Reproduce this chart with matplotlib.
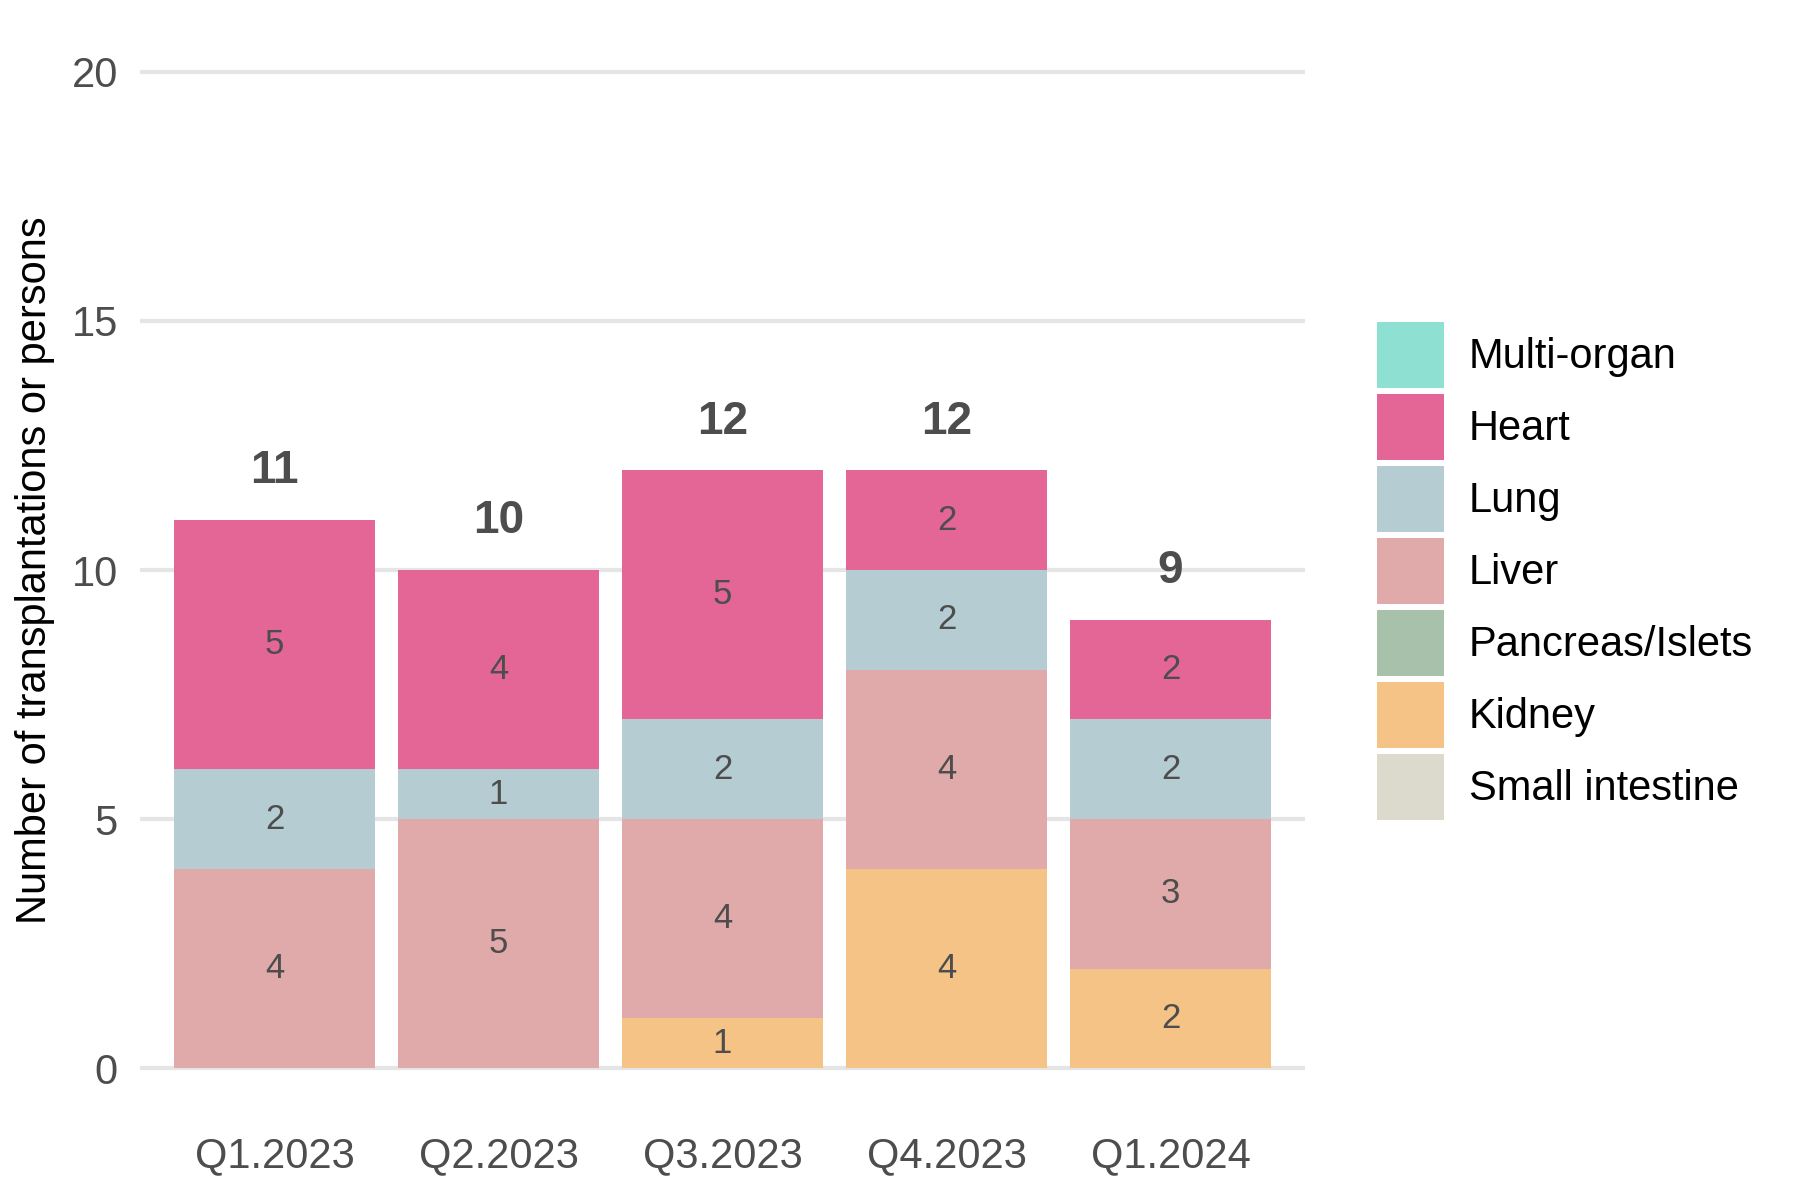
import numpy as np
import matplotlib.pyplot as plt

plt.rcParams['font.family'] = ['Liberation Sans', 'DejaVu Sans']

# ---------------- data ----------------
quarters = ['Q1.2023', 'Q2.2023', 'Q3.2023', 'Q4.2023', 'Q1.2024']
# stacked bottom -> top
organs = ['Small intestine', 'Kidney', 'Pancreas/Islets', 'Liver', 'Lung', 'Heart', 'Multi-organ']
small_intestine = [0, 0, 0, 0, 0]
kidney = [0, 0, 1, 4, 2]
pancreas = [0, 0, 0, 0, 0]
liver = [4, 5, 4, 4, 3]
lung = [2, 1, 2, 2, 2]
heart = [5, 4, 5, 2, 2]
multi_organ = [0, 0, 0, 0, 0]

colors = {'Multi-organ': '#8EE0D2', 'Heart': '#E46697', 'Lung': '#B5CDD2',
          'Liver': '#E0AAAA', 'Pancreas/Islets': '#A7C1AA', 'Kidney': '#F4C385',
          'Small intestine': '#DCDACD'}

series = [small_intestine, kidney, pancreas, liver, lung, heart, multi_organ]
txt = '#4D4D4D'

# ---------------- plot ----------------
fig = plt.figure(figsize=(18, 12), dpi=100)
ax = fig.add_axes([0.0778, 0.0683, 0.6472, 0.9134])

x = np.arange(len(quarters))
bottom = np.zeros(len(quarters))
handles = {}
for name, vals in zip(organs, series):
    vals = np.array(vals, dtype=float)
    b = ax.bar(x, vals, 0.9, bottom=bottom, color=colors[name], linewidth=0, zorder=2)
    handles[name] = b
    for xi, v, b0 in zip(x, vals, bottom):
        if v > 0:
            ax.text(xi, b0 + v / 2, f'{int(v)}', ha='center', va='center',
                    fontsize=25, color=txt, zorder=3)
    bottom += vals

for xi, tot in zip(x, bottom):
    ax.text(xi, tot + 0.98, f'{int(tot)}', ha='center', va='center',
            fontsize=33, fontweight='bold', color=txt)

ax.set_xlim(-0.6, 4.6)
ax.set_ylim(-1, 21)
ax.set_yticks([0, 5, 10, 15, 20])
ax.set_xticks(x)
ax.set_xticklabels(quarters)
ax.tick_params(axis='both', length=0, labelsize=30, labelcolor=txt)
ax.tick_params(axis='x', pad=13)
ax.tick_params(axis='y', pad=16)
ax.grid(axis='y', color='#E5E5E5', linewidth=3, zorder=0)
ax.set_axisbelow(True)
for s in ax.spines.values():
    s.set_visible(False)
ax.set_ylabel('Number of transplantations or persons', fontsize=30, color='black', labelpad=12)

leg_order = ['Multi-organ', 'Heart', 'Lung', 'Liver', 'Pancreas/Islets', 'Kidney', 'Small intestine']
fig.legend([handles[n] for n in leg_order], leg_order, loc='center left',
           bbox_to_anchor=(0.765, 0.524), frameon=False, fontsize=30,
           handlelength=1.6, handleheight=2.06, labelspacing=0.144,
           handletextpad=0.6, borderpad=0, borderaxespad=0)

fig.savefig('out.png', dpi=100, facecolor='white')
